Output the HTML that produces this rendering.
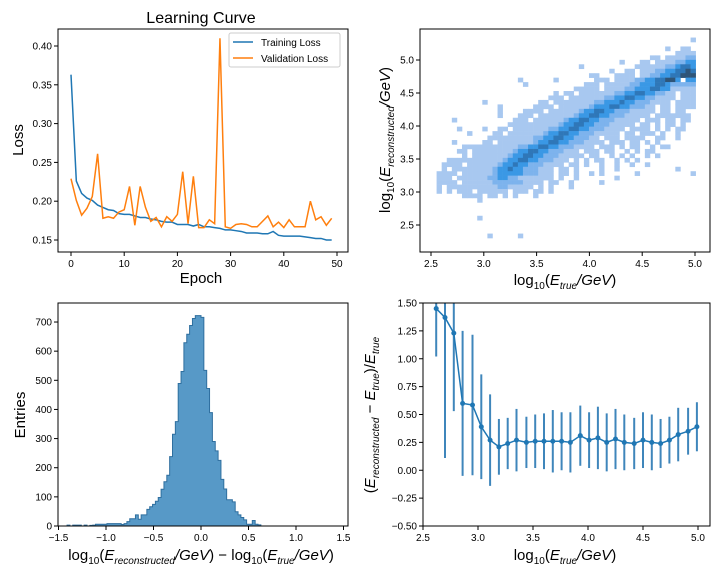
<!DOCTYPE html>
<html><head><meta charset="utf-8"><style>
html,body{margin:0;padding:0;background:#fff;width:720px;height:576px;overflow:hidden}
svg{display:block;font-family:"Liberation Sans","DejaVu Sans",sans-serif}
.tk{font-size:10px;fill:#000}
.lb{font-size:15px;fill:#000}
</style></head><body>
<svg id="fig" width="720" height="576" viewBox="0 0 720 576" xmlns="http://www.w3.org/2000/svg">
<defs>
<clipPath id="c4"><rect x="423" y="303" width="287" height="223"/></clipPath>
</defs>
<text x="201" y="23" text-anchor="middle" font-size="16">Learning Curve</text>
<g id="p1"></g>
<g id="p2"></g>
<g id="p3"></g>
<g id="p4"></g>
<text class="lb" x="201" y="283" text-anchor="middle">Epoch</text>
<text class="lb" transform="translate(23,140) rotate(-90)" text-anchor="middle">Loss</text>
<text class="lb" x="565" y="285" text-anchor="middle">log<tspan font-size="10" dy="4">10</tspan><tspan dy="-4">(</tspan><tspan font-style="italic">E</tspan><tspan font-size="10" dy="4" font-style="italic">true</tspan><tspan dy="-4" font-style="italic">/GeV</tspan>)</text>
<text class="lb" transform="translate(390,140) rotate(-90)" text-anchor="middle">log<tspan font-size="10" dy="4">10</tspan><tspan dy="-4">(</tspan><tspan font-style="italic">E</tspan><tspan font-size="10" dy="4" font-style="italic">reconstructed</tspan><tspan dy="-4" font-style="italic">/GeV</tspan>)</text>
<text class="lb" x="201" y="560" text-anchor="middle">log<tspan font-size="10" dy="4">10</tspan><tspan dy="-4">(</tspan><tspan font-style="italic">E</tspan><tspan font-size="10" dy="4" font-style="italic">reconstructed</tspan><tspan dy="-4" font-style="italic">/GeV</tspan>) − log<tspan font-size="10" dy="4">10</tspan><tspan dy="-4">(</tspan><tspan font-style="italic">E</tspan><tspan font-size="10" dy="4" font-style="italic">true</tspan><tspan dy="-4" font-style="italic">/GeV</tspan>)</text>
<text class="lb" transform="translate(25,415) rotate(-90)" text-anchor="middle">Entries</text>
<text class="lb" x="565" y="560" text-anchor="middle">log<tspan font-size="10" dy="4">10</tspan><tspan dy="-4">(</tspan><tspan font-style="italic">E</tspan><tspan font-size="10" dy="4" font-style="italic">true</tspan><tspan dy="-4" font-style="italic">/GeV</tspan>)</text>
<text class="lb" transform="translate(375,415) rotate(-90)" text-anchor="middle">(<tspan font-style="italic">E</tspan><tspan font-size="10" dy="4" font-style="italic">reconstructed</tspan><tspan dy="-4"> − </tspan><tspan font-style="italic">E</tspan><tspan font-size="10" dy="4" font-style="italic">true</tspan><tspan dy="-4">)/</tspan><tspan font-style="italic">E</tspan><tspan font-size="10" dy="4" font-style="italic">true</tspan></text>
</svg>
<script>
const epochs=[];for(let i=0;i<50;i++)epochs.push(i);
const trainLoss=[0.363,0.226,0.210,0.204,0.201,0.195,0.192,0.189,0.188,0.184,0.183,0.183,0.181,0.179,0.179,0.177,0.176,0.174,0.173,0.173,0.170,0.170,0.170,0.168,0.170,0.167,0.167,0.166,0.165,0.163,0.163,0.162,0.161,0.159,0.159,0.159,0.158,0.158,0.161,0.156,0.155,0.155,0.155,0.155,0.154,0.153,0.152,0.152,0.150,0.150];
const valLoss=[0.229,0.201,0.182,0.191,0.206,0.261,0.178,0.180,0.178,0.186,0.189,0.219,0.169,0.219,0.192,0.174,0.179,0.167,0.180,0.174,0.183,0.238,0.171,0.232,0.166,0.166,0.176,0.171,0.410,0.167,0.165,0.170,0.171,0.170,0.167,0.167,0.174,0.181,0.167,0.173,0.166,0.176,0.167,0.167,0.167,0.200,0.176,0.180,0.169,0.178];
const lossXTicks=[0,10,20,30,40,50];
const lossYTicks=["0.15","0.20","0.25","0.30","0.35","0.40"];
const hist2dRows=[
"..................................................1",
"...................................................",
".............................................1..11.",
"...............................................1111",
"..........................................11.111122",
"....................................1...11.11112233",
"............................1..........111111223443",
"..................................1..11.11122334454",
"..............................11...1111.112233445555",
"................1......1.......111.1111223344553.33",
".................1...........111.111112233344322222",
"...........................11111.111122333443311111",
".......................1.11.1111111223344332211.111",
"......................111.111111122334433221111.111",
".........1..........11.11111111223334332221111.1111",
"............1......1111.1111112333443322211.11.1111",
"............1....1111.111111233443322211111.11.11.",
"............1...111.1111111233443322211111.1111111",
"...1...........111.111111233443322211111.111.11.11",
"..............1111111111233443322211111.11.1.11.1.",
"....1....1..11.1111111223344332221111.1111.1.1.11.",
"......1....11.1111111233443322211111.11.111.1..1..",
"..........1111111112233443322211.111.1111..11..1..",
"...1.....11.111111123344332221111.111.11.1.1......",
".....11111111111223344332221111.111.1.11..1.11....",
"....11.111111112334433222111.111.11..1.1.11.......",
".....1.1111111233443322211111.11..1.1.1..1.1......",
"..111111111112334433222111.1.1.11..1.1.1..........",
".1111.1111112334332221111.11.1..1..1..1..1........",
".1.11111111233433222111.11.1....1..1...........1..",
"1111.111111233333222111.11.1..1.1......1..........1",
"111.1111112233221111111.1..1.......1...............",
"1111.1111112222221111.11..1.....1..................",
"1.11111111112211111.1.1...1........................",
"1.1.111.111111.111.11.1............................",
".....1111.11.1.1...1...............................",
"........1..........................................",
"...................................................",
"...................................................",
"...................................................",
"........1..........................................",
"...................................................",
"...................................................",
"...................................................",
"..........1.....1..................................",
"..................................................."
];
const hist2dXTicks=["2.5","3.0","3.5","4.0","4.5","5.0"];
const hist2dYTicks=["2.5","3.0","3.5","4.0","4.5","5.0"];
const residCounts=[0,0,0,3,0,3,3,3,0,3,0,2,3,6,6,6,6,8,8,8,8,8,5,8,15,25,25,38,23,38,38,57,66,74,85,98,126,152,174,238,315,358,489,530,629,658,688,712,722,722,716,534,472,389,290,258,225,160,127,90,90,83,49,38,29,21,6,6,19,6,4,0];
const residXTicks=["−1.5","−1.0","−0.5","0.0","0.5","1.0","1.5"];
const residYTicks=[0,100,200,300,400,500,600,700];
const relX=[2.62,2.70,2.78,2.86,2.95,3.03,3.11,3.19,3.27,3.35,3.44,3.52,3.60,3.68,3.76,3.84,3.93,4.01,4.09,4.17,4.25,4.33,4.42,4.50,4.58,4.66,4.74,4.82,4.91,4.99];
const relY=[1.45,1.37,1.23,0.60,0.585,0.39,0.27,0.21,0.24,0.27,0.25,0.26,0.26,0.26,0.26,0.25,0.31,0.27,0.29,0.25,0.28,0.25,0.24,0.27,0.25,0.24,0.27,0.32,0.35,0.39];
const relErr=[0.43,1.26,0.70,0.65,0.63,0.47,0.41,0.25,0.23,0.28,0.23,0.24,0.25,0.28,0.26,0.27,0.27,0.25,0.28,0.26,0.27,0.25,0.23,0.25,0.25,0.22,0.21,0.24,0.21,0.22];
const relXTicks=["2.5","3.0","3.5","4.0","4.5","5.0"];
const relYTicks=["−0.50","−0.25","0.00","0.25","0.50","0.75","1.00","1.25","1.50"];

const NS="http://www.w3.org/2000/svg";
function mk(parent,tag,attrs){const e=document.createElementNS(NS,tag);for(const k in attrs)e.setAttribute(k,attrs[k]);parent.appendChild(e);return e;}
function num(s){return parseFloat(String(s).replace('−','-'));}
function frame(g,x0,y0,x1,y1){const r=mk(g,'rect',{x:x0,y:y0,width:x1-x0,height:y1-y0,fill:'none',stroke:'#000','stroke-width':1});

}
function xticks(g,labels,sx,yb){labels.forEach(l=>{const x=sx(num(l));mk(g,'line',{x1:x,x2:x,y1:yb,y2:yb+4,stroke:'#000'});const t=mk(g,'text',{x:x,y:yb+15,'text-anchor':'middle',class:'tk'});t.textContent=l;

});}
function yticks(g,labels,sy,xl){labels.forEach(l=>{const y=sy(num(l));mk(g,'line',{x1:xl-4,x2:xl,y1:y,y2:y,stroke:'#000'});const t=mk(g,'text',{x:xl-6,y:y+3.5,'text-anchor':'end',class:'tk'});t.textContent=l;

});}

// Plot 1
(function(){const g=document.getElementById('p1');
const sx=v=>71+v*5.32, sy=v=>240-(v-0.15)*776;
const pts=a=>a.map((v,i)=>sx(epochs[i])+','+sy(v)).join(' ');
const l1=mk(g,'polyline',{points:pts(trainLoss),fill:'none',stroke:'#1f77b4','stroke-width':1.5});


const l2=mk(g,'polyline',{points:pts(valLoss),fill:'none',stroke:'#ff7f0e','stroke-width':1.5});


frame(g,58,29,348,252);
xticks(g,lossXTicks.map(String),sx,252);yticks(g,lossYTicks,sy,58);
const lg=mk(g,'g',{});


mk(lg,'rect',{x:229,y:33,width:111,height:34,fill:'#fff',stroke:'#ccc',rx:2});
mk(lg,'line',{x1:233,x2:253,y1:42,y2:42,stroke:'#1f77b4','stroke-width':1.5});
mk(lg,'line',{x1:233,x2:253,y1:58,y2:58,stroke:'#ff7f0e','stroke-width':1.5});
const t1=mk(lg,'text',{x:261,y:46,'font-size':10});t1.textContent='Training Loss';


const t2=mk(lg,'text',{x:261,y:62,'font-size':10});t2.textContent='Validation Loss';


})();

// Plot 2
(function(){const g=document.getElementById('p2');
const sx=v=>431+(v-2.5)*105.6, sy=v=>225-(v-2.5)*66;
const cols={'1':'#a8c8f0','2':'#7db3ed','3':'#3a98e5','4':'#2f77b8','5':'#2f5578'};
const x0=2.553,cw=0.0481,y0=5.34,ch=0.0675;
hist2dRows.forEach((row,r)=>{for(let c=0;c<row.length&&c<51;c++){const k=row[c];if(!cols[k])continue;
const xa=sx(x0+c*cw),xb=sx(x0+(c+1)*cw),ya=sy(y0-r*ch),yb=sy(y0-(r+1)*ch);
const e=mk(g,'rect',{x:xa,y:ya,width:xb-xa+0.3,height:yb-ya+0.3,fill:cols[k]});

}});
frame(g,420,29,710,252);
xticks(g,hist2dXTicks,sx,252);yticks(g,hist2dYTicks,sy,420);
})();

// Plot 3
(function(){const g=document.getElementById('p3');
const sx=v=>201+v*95, sy=v=>526-v*0.2914;
const bw=0.03;let d='M'+sx(-1.5)+','+sy(0);
residCounts.forEach((c,k)=>{const a=-1.5+k*bw;d+=' L'+sx(a)+','+sy(c)+' L'+sx(a+bw)+','+sy(c);});
d+=' L'+sx(-1.5+residCounts.length*bw)+','+sy(0)+' Z';
const p=mk(g,'path',{d:d,fill:'#5799c7',stroke:'#2f6f9f','stroke-width':1});


frame(g,58,303,348,526);
xticks(g,residXTicks,sx,526);yticks(g,residYTicks.map(String),sy,58);
})();

// Plot 4
(function(){const g=document.getElementById('p4');
const sx=v=>423+(v-2.5)*110, sy=v=>526-(v+0.5)*111.5;
const cg=mk(g,'g',{'clip-path':'url(#c4)'});
relX.forEach((x,i)=>{const e=mk(cg,'line',{x1:sx(x),x2:sx(x),y1:sy(relY[i]-relErr[i]),y2:sy(relY[i]+relErr[i]),stroke:'#3f86bb','stroke-width':2});

});
const pl=mk(cg,'polyline',{points:relX.map((x,i)=>sx(x)+','+sy(relY[i])).join(' '),fill:'none',stroke:'#1f77b4','stroke-width':1.5});


relX.forEach((x,i)=>{const e=mk(cg,'circle',{cx:sx(x),cy:sy(relY[i]),r:2.5,fill:'#1f77b4'});

});
frame(g,423,303,710,526);
xticks(g,relXTicks,sx,526);yticks(g,relYTicks,sy,423);
})();
</script>
</body></html>
